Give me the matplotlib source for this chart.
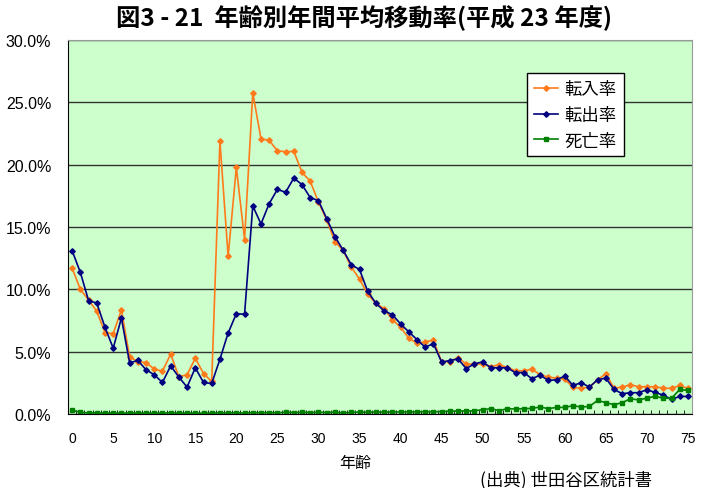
import matplotlib
matplotlib.use('Agg')
import matplotlib.pyplot as plt
from matplotlib.ticker import FuncFormatter, MultipleLocator

ages = list(range(0, 76))

tennyu = [11.7, 10.0, 9.15, 8.24, 6.53, 6.45, 8.35, 4.59, 4.2, 4.13,
          3.6, 3.44, 4.8, 2.99, 3.15, 4.48, 3.25, 2.61, 21.9, 12.64,
          19.79, 14.0, 25.76, 22.08, 21.95, 21.12, 21.04, 21.07, 19.39, 18.67,
          17.01, 15.57, 13.84, 13.13, 11.78, 10.83, 9.6, 8.88, 8.45, 7.57,
          6.96, 6.08, 5.68, 5.79, 5.92, 4.21, 4.21, 4.52, 4.0, 4.0,
          4.01, 3.81, 3.95, 3.73, 3.47, 3.47, 3.6, 3.15, 2.96, 2.88,
          2.8, 2.13, 2.08, 2.16, 2.75, 3.23, 2.08, 2.16, 2.35, 2.19,
          2.19, 2.19, 2.08, 2.05, 2.29, 2.05]

tenshutsu = [13.1, 11.36, 9.1, 8.9, 6.96, 5.28, 7.7, 4.1, 4.3, 3.55,
             3.15, 2.53, 3.87, 2.96, 2.16, 3.71, 2.53, 2.45, 4.4, 6.5,
             8.05, 8.0, 16.7, 15.25, 16.88, 18.02, 17.79, 18.93, 18.4, 17.36,
             17.12, 15.68, 14.24, 13.15, 11.97, 11.6, 9.84, 8.88, 8.27, 7.97,
             7.23, 6.59, 5.97, 5.36, 5.65, 4.16, 4.29, 4.42, 3.64, 4.04,
             4.17, 3.71, 3.71, 3.71, 3.31, 3.33, 2.83, 3.12, 2.69, 2.75,
             3.04, 2.29, 2.51, 2.16, 2.75, 2.88, 1.97, 1.63, 1.71, 1.71,
             1.95, 1.73, 1.52, 1.17, 1.41, 1.41]

shibou = [0.30, 0.15, 0.08, 0.10, 0.06, 0.08, 0.06, 0.10, 0.07, 0.08,
          0.06, 0.08, 0.10, 0.07, 0.08, 0.06, 0.08, 0.07, 0.10, 0.08,
          0.10, 0.08, 0.12, 0.10, 0.12, 0.10, 0.14, 0.12, 0.14, 0.12,
          0.14, 0.12, 0.15, 0.08, 0.14, 0.15, 0.14, 0.16, 0.15, 0.17,
          0.16, 0.18, 0.17, 0.19, 0.18, 0.20, 0.22, 0.24, 0.24, 0.26,
          0.35, 0.43, 0.27, 0.43, 0.40, 0.43, 0.45, 0.56, 0.43, 0.53,
          0.53, 0.67, 0.56, 0.61, 1.09, 0.91, 0.75, 0.91, 1.23, 1.12,
          1.28, 1.41, 1.28, 1.25, 1.97, 1.89]

labels = ['転入率', '転出率', '死亡率']
colors = ['#FF7A1A', '#000080', '#008000']

plt.rcParams['font.family'] = ['Noto Sans CJK JP', 'DejaVu Sans']

fig = plt.figure(figsize=(7.05, 4.89), dpi=100)
ax = fig.add_axes([0.0965, 0.1513, 0.8851, 0.7647])
ax.set_facecolor('#CCFFCC')

ax.plot(ages, tennyu, color=colors[0], lw=1.2, marker='D', ms=2.8, label=labels[0])
ax.plot(ages, tenshutsu, color=colors[1], lw=1.2, marker='D', ms=2.8, label=labels[1])
ax.plot(ages, shibou, color=colors[2], lw=1.2, marker='s', ms=2.8, label=labels[2])

ax.set_xlim(-0.5, 75.5)
ax.set_ylim(0, 30)
ax.yaxis.set_major_locator(MultipleLocator(5))
ax.yaxis.set_major_formatter(FuncFormatter(lambda v, p: '%.1f%%' % v))
ax.grid(axis='y', color='#333333', lw=1.0)
ax.set_axisbelow(True)

ax.set_xticks(range(0, 76, 5))
ax.set_xticks([a + 0.5 for a in range(-1, 76)], minor=True)
ax.tick_params(axis='x', which='major', length=0, pad=12, labelsize=10)
ax.tick_params(axis='x', which='minor', direction='in', length=3, color='black')
ax.tick_params(axis='y', length=0, pad=12, labelsize=11.5)
for lab in ax.get_xticklabels() + ax.get_yticklabels():
    lab.set_family('Liberation Sans')

ax.spines['top'].set_color('#999999')
ax.spines['right'].set_color('#999999')
ax.spines['left'].set_color('black')
ax.spines['bottom'].set_color('black')

leg = ax.legend(loc='upper left', bbox_to_anchor=(0.736, 0.912), fontsize=12.5,
                frameon=True, fancybox=False, edgecolor='black', framealpha=1,
                handlelength=1.35, borderpad=0.4, labelspacing=0.45, handletextpad=0.4,
                borderaxespad=0)
leg.get_frame().set_linewidth(1.0)

fig.text(0.517, 0.962, '図3 - 21  年齢別年間平均移動率(平成 23 年度)', ha='center', va='center',
         fontsize=17.5, fontweight='bold')
fig.text(0.504, 0.053, '年齢', ha='center', va='center', fontsize=11.5)
fig.text(0.803, 0.017, '(出典) 世田谷区統計書', ha='center', va='center', fontsize=12.5)

fig.savefig('out.png', dpi=100)
